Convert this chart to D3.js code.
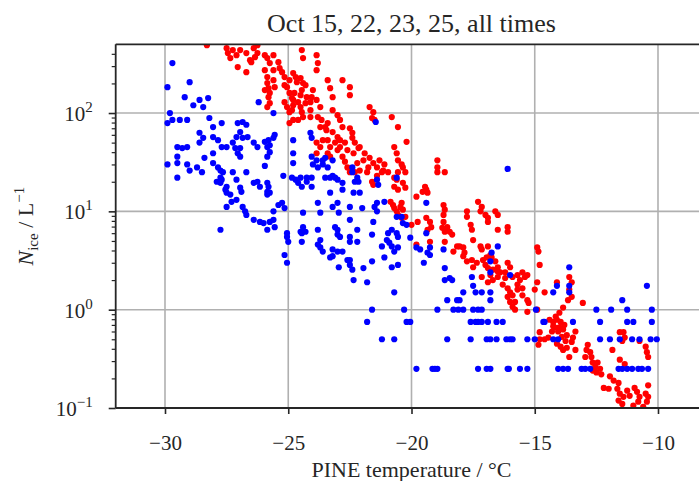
<!DOCTYPE html>
<html>
<head>
<meta charset="utf-8">
<script src="https://cdn.jsdelivr.net/npm/d3@7"></script>
<style>
  body { margin: 0; background: #fff; }
  svg text { font-family: "Liberation Serif", "DejaVu Serif", serif; fill: #262626; }
</style>
</head>
<body>
<svg id="chart" width="699" height="481"></svg>
<script>
// chart text + ticks
const titleText = 'Oct 15, 22, 23, 25, all times'
const xLabel = 'PINE temperature / °C'
const xTicks = [-30, -25, -20, -15, -10]
const yTicks = [0.1, 1, 10, 100]
const yMinor = [0.2, 0.3, 0.4, 0.5, 0.6, 0.7, 0.8, 0.9, 2, 3, 4, 5, 6, 7, 8, 9,
  20, 30, 40, 50, 60, 70, 80, 90, 200, 300, 400]

// [temperature degC, N_ice per litre]
const bluePoints = [
  [-29.7,322],[-29.9,183],[-29.0,206],[-29.2,145],[-28.85,120],[-28.6,136],[-28.45,115],[-28.25,142],
  [-29.8,100],[-29.7,85],[-29.9,79],[-29.4,85],[-29.1,85],[-28.2,89],[-28.05,72],[-27.7,79],
  [-27.05,79],[-26.85,81],[-26.7,76],[-26.95,64],[-27.1,57],[-28.6,63],[-28.6,50],[-28.45,56],
  [-28.05,57],[-27.85,53],[-27.7,45],[-27.5,45],[-27.25,50],[-27.15,44],[-27.05,39],[-26.95,36],
  [-26.65,57],[-26.4,50],[-26.25,45],[-25.95,51],[-25.8,53],[-25.6,56],[-25.55,60],[-25.85,45],[-25.75,40],
  [-29.5,45],[-29.1,45],[-29.5,36],[-29.3,44],[-29.9,30],[-29.5,31],[-29.0,26],[-28.7,28],[-28.5,25],[-29.5,22],
  [-28.05,39],[-28.05,31],[-27.85,28],[-27.75,26],[-27.65,25],[-27.5,17.8],[-27.75,19.5],[-27.9,20],
  [-27.25,25],[-27.1,21],[-26.95,17.4],[-27.35,14.8],[-27.1,13.1],[-26.85,11.1],[-26.7,9.2],
  [-26.4,19.5],[-26.25,20],[-26.15,17.8],[-25.85,15.8],[-25.85,14.8],
  [-25.75,7.8],[-25.85,6.5],[-25.6,10],[-25.25,12.2],[-25.15,10.8],[-26.4,8.2],[-26.15,7.8],[-26.0,7.6],[-27.75,6.5],
  [-25.6,100],[-26.2,129],[-24.8,53],[-24.8,39],[-24.8,31],[-24.85,22],[-24.7,21],[-24.6,19.5],[-24.25,20],
  [-24.1,63],[-24.05,56],[-24.05,36],[-24.0,30],[-23.85,33],[-23.6,33],[-23.4,28],[-23.2,33],
  [-22.8,19.5],[-22.8,16.6],[-23.3,22],[-23.2,11.1],[-23.0,12.2],
  [-25.05,6.0],[-24.45,6.0],[-24.4,6.9],[-23.7,9.7],[-23.8,6.5],[-23.0,6.5],
  [-26.85,56],[-25.75,47],[-26.95,44],[-25.85,36],[-28.4,35],[-29.1,30],[-26.7,25],[-25.95,29],
  [-27.75,22],[-27.7,21],[-27.55,16.6],[-27.5,15.5],[-27.3,12.5],[-27.5,11.1],[-26.9,15.8],[-25.85,19.5],[-25.8,17.8],
  [-26.75,10],[-25.55,6.9],[-25.4,11.6],
  [-23.8,28],[-23.6,30],[-23.5,35],[-25.2,23],[-24.5,22],[-24.25,22],[-24.05,22],[-23.2,23],[-22.4,28],[-22.2,22],
  [-21.45,81],[-20.6,22],
  [-24.45,17.8],[-24.05,17.8],[-23.5,22],[-23.1,22],[-23.0,21],[-23.3,15.5],[-22.4,25],[-22.3,20],[-22.15,20],
  [-22.35,15.5],[-22.1,15.5],[-21.4,21],[-21.35,18.6],[-25.75,15.5],[-23.8,12.2],[-25.6,8.2],[-24.4,9.7],
  [-22.95,9.7],[-22.5,11.1],[-22.0,10.8],[-21.4,12.2],[-21.5,11.1],[-21.4,10],[-21.1,12.5],[-22.5,8.2],
  [-23.1,6.9],[-23.0,5.8],[-22.9,5.5],[-21.55,7.8],[-24.5,6.2],[-24.3,6.2],[-23.7,5.1],[-23.8,4.6],
  [-25.05,5.5],[-25.0,4.9],[-24.45,4.9],[-22.5,5.5],[-22.5,4.9],[-22.2,6.5],[-21.6,5.8],[-20.95,6.0],
  [-20.8,6.5],[-20.6,6.0],[-20.55,5.5],[-21.0,5.1],[-20.9,4.8],[-20.8,4.4],[-20.55,4.3],[-20.7,3.9],
  [-21.2,4.4],[-23.7,4.3],[-23.6,3.9],[-23.2,4.1],[-23.0,3.9],[-22.8,3.9],[-25.15,3.6],[-25.05,3.0],
  [-23.3,3.4],[-22.5,3.2],[-22.5,2.85],[-22.4,2.55],[-22.95,2.7],[-21.95,2.65],[-21.6,3.1],[-21.1,3.4],
  [-20.8,2.7],[-20.55,2.85],[-22.35,2.0],[-21.8,1.9],[-20.7,1.5],[-20.05,5.4],[-20.2,7.3],[-20.35,7.6],
  [-20.4,8.8],[-20.6,8.8],[-23.2,3.5],[-22.6,3.2],[-22.2,4.9],[-19.35,3.8],
  [-21.6,1],[-21.8,0.75],[-20.3,1],[-20.2,0.75],[-21.2,0.5],[-20.7,0.5],
  [-16.1,27],[-19.4,12.2],[-19.4,6.0],[-19.8,4.3],[-19.65,4.1],[-19.25,4.3],[-19.25,3.6],[-18.7,4.1],
  [-19.5,3.0],[-18.65,2.65],[-16.75,3.8],[-16.5,4.4],[-16.0,2.25],[-18.45,2.1],[-17.55,2.15],
  [-16.8,3.1],[-16.8,2.4],
  [-18.65,2.0],[-18.35,2.0],[-17.5,1.75],[-17.4,1.5],[-17.15,1.5],[-16.8,1.5],[-17.9,1.5],
  [-18.05,1.25],[-18.15,1.25],[-18.55,1.25],[-16.8,1.25],
  [-18.95,1],[-18.3,1],[-18.1,1],[-17.9,1],[-17.5,1],[-17.3,1],[-17.15,1],
  [-20.05,0.75],[-17.6,0.75],[-17.4,0.75],[-17.3,0.75],[-17.15,0.75],[-16.9,0.75],[-16.55,0.75],[-16.3,0.75],
  [-18.55,0.5],[-17.6,0.5],[-16.95,0.5],[-16.8,0.5],[-16.55,0.5],[-16.15,0.5],[-16.0,0.5],[-15.9,0.5],
  [-15.3,0.5],[-15.0,0.5],
  [-19.8,0.25],[-19.15,0.25],[-19.05,0.25],[-18.95,0.25],[-17.3,0.25],[-16.95,0.25],[-16.8,0.25],
  [-16.1,0.25],[-16.05,0.25],[-15.6,0.25],[-15.3,0.25],
  [-14.95,1],[-14.65,0.75],[-14.6,0.75],[-14.25,1.5],[-14.1,1.75],[-14.25,0.5],[-14.05,0.25],
  [-13.6,2.7],[-10.45,1.75],[-13.6,1.5],[-13.6,1.75],[-11.45,1.25],
  [-12.5,1],[-11.9,1],[-11.25,1],[-10.25,1],
  [-12.35,0.75],[-11.25,0.75],[-11.0,0.75],[-10.25,0.75],[-13.45,0.75],
  [-14.05,0.5],[-12.35,0.5],[-11.95,0.5],[-11.55,0.5],[-11.05,0.5],[-10.75,0.5],[-10.3,0.5],[-10.05,0.5],
  [-13.85,0.25],[-13.65,0.25],[-13.1,0.25],[-12.95,0.25],[-12.75,0.25],[-11.6,0.25],[-11.45,0.25],
  [-11.25,0.25],[-11.05,0.25],[-10.8,0.25],[-10.65,0.25],[-10.4,0.25]
]

const redPoints = [
  [-28.3,490],[-27.5,457],[-27.45,407],[-27.35,362],[-27.25,437],[-27.1,388],[-27.05,293],[-26.7,260],
  [-26.95,437],[-26.4,457],[-26.25,490],[-26.35,370],[-26.55,345],[-25.85,362],[-25.75,322],[-25.6,388],
  [-25.4,329],[-25.35,286],[-25.6,273],[-25.95,273],[-25.85,232],[-25.85,202],[-25.95,171],[-25.8,145],
  [-25.85,115],[-25.6,216],[-25.55,183],[-25.15,232],[-25.05,183],[-24.95,160],[-24.8,136],[-24.85,107],
  [-24.8,85],[-24.95,79],[-24.5,227],[-24.4,202],[-24.45,171],[-24.25,145],[-24.3,126],[-24.1,107],
  [-24.45,437],[-24.4,362],[-23.85,388],[-23.8,322],[-23.85,273],[-24.0,171],[-23.85,136],[-23.7,115],
  [-23.8,91],[-23.65,85],[-23.4,216],[-23.3,179],[-23.2,145],[-23.2,107],[-23.0,95],[-22.9,85],
  [-22.8,72],[-23.7,72],[-23.4,79],[-23.2,64],[-23.0,57],[-22.9,53],[-22.7,50],[-22.6,42],
  [-23.85,50],[-23.7,45],[-23.85,39],[-23.4,53],[-23.3,45],[-22.8,216],
  [-26.7,407],[-26.25,407],[-26.5,329],[-25.95,388],[-25.75,126],[-25.8,179],
  [-25.25,260],[-25.75,160],[-24.8,255],[-24.7,232],[-24.95,216],[-25.15,192],[-24.65,206],[-24.3,192],
  [-24.75,160],[-24.5,152],[-24.85,142],[-24.6,129],[-24.8,120],[-24.5,115],[-24.05,145],[-24.1,129],
  [-25.15,129],[-25.05,115],[-22.5,183],[-22.5,152],[-24.95,102],[-24.45,102],[-24.4,91],[-24.6,85],
  [-24.1,91],[-23.5,72],[-23.45,67],[-23.1,50],[-22.9,45],[-23.0,42],[-22.5,70],[-22.4,63],[-22.4,56],
  [-22.3,50],[-22.15,44],[-22.35,39],[-21.7,115],[-21.55,102],[-21.6,89],[-21.5,85],[-20.8,91],[-20.55,72],
  [-23.6,53],[-23.4,39],[-23.3,36],[-22.1,45],[-21.9,39],[-21.7,35],[-21.95,33],[-21.55,31],[-21.4,28],
  [-21.75,28],[-21.3,33],[-21.1,30],[-21.15,26],[-20.95,25],[-20.7,45],[-20.6,39],[-20.55,33],[-20.4,30],
  [-20.35,28],[-20.25,25],[-20.55,25],[-20.2,51],[-22.8,36],[-22.7,32],[-22.6,28],[-22.5,25],[-22.2,31],
  [-22.1,26],[-22.3,25],[-20.7,22],
  [-21.8,25],[-21.4,23],[-21.2,25],[-21.6,20],[-21.55,18.6],[-20.6,21],[-20.7,17.8],[-20.55,16.6],
  [-20.35,19.5],[-20.25,17.4],[-20.85,12.5],[-20.75,11.6],[-20.7,10.8],[-20.6,10],[-20.55,9.2],
  [-20.45,11.1],[-20.4,12.2],[-20.35,10.4],[-20.4,8.6],[-20.25,8.8],[-19.8,14.1],[-19.75,7.8],[-19.8,4.6],[-20.0,7.3],
  [-18.95,33],[-18.95,28],[-18.95,25],[-18.65,25],[-19.45,17.8],[-19.4,16.6],[-19.55,15.8],[-19.35,15.5],
  [-18.7,11.6],[-18.65,10.4],[-18.7,9.2],[-17.3,12.5],[-17.15,11.1],[-17.2,10],[-16.9,8.6],[-17.0,9.2],
  [-16.6,10],[-16.5,9.2],[-17.75,10],[-17.75,8.8],[-19.4,8.6],[-19.25,7.8],[-19.2,6.9],[-19.35,6.5],
  [-18.7,7.8],[-18.55,6.9],[-18.75,6.8],[-18.65,6.2],[-18.45,6.2],[-18.35,5.8],[-17.6,7.3],[-17.55,6.5],
  [-17.5,5.1],[-16.9,7.8],[-16.5,6.5],[-16.1,6.9],[-16.1,6.2],[-19.25,4.9],[-18.65,4.9],[-18.15,4.4],
  [-18.05,4.4],[-17.9,4.3],[-18.3,3.9],[-17.85,3.8],[-17.2,4.4],[-17.15,4.1],[-16.9,4.4],[-16.8,3.6],
  [-17.9,3.5],[-17.75,3.1],[-17.55,3.2],[-17.35,3.0],[-17.5,2.7],[-17.1,3.2],[-17.0,2.85],[-16.9,2.65],
  [-16.95,3.4],[-16.75,3.4],[-16.6,3.1],[-16.5,2.7],[-16.7,2.55],[-16.5,2.45],[-16.4,2.4],[-16.2,2.4],
  [-16.1,3.0],[-16.0,2.7],[-15.7,2.25],[-15.5,2.4],[-15.3,2.25],[-14.9,4.3],[-14.85,3.9],[-14.8,2.85],[-17.15,2.15],
  [-16.8,2.25],[-16.7,2.0],[-16.9,1.9],[-16.5,2.15],[-16.2,2.1],[-15.9,2.15],[-15.4,2.15],[-16.3,1.8],
  [-16.1,1.65],[-16.0,1.5],[-15.9,1.4],[-16.1,1.35],[-16.0,1.2],[-15.8,1.2],[-15.9,1.07],[-15.8,1.0],
  [-15.7,1.8],[-15.7,1.6],[-15.5,1.65],[-15.5,1.4],[-15.6,2.0],[-15.3,1.25],[-15.25,1.17],[-15.3,0.95],
  [-15.0,1.6],[-14.9,1.9],[-14.6,1.5],[-14.9,1.0],[-14.1,1.9],[-14.4,0.79],[-14.25,0.75],[-14.1,0.79],
  [-14.2,0.66],[-14.05,0.6],[-14.8,0.59],[-14.8,0.5],[-14.85,0.44],[-14.6,0.5],[-14.45,0.52],
  [-14.15,0.85],[-13.95,0.75],[-13.8,0.7],[-14.3,0.6],[-13.7,0.55],[-14.1,0.45],[-13.95,0.42],
  [-13.6,2.15],[-13.5,1.9],[-13.6,1.6],[-13.5,1.35],[-13.65,1.25],[-13.05,1.17],[-13.85,1.05],[-14.0,0.93],
  [-14.25,0.68],[-14.0,0.66],[-13.85,0.63],[-13.9,0.53],[-13.75,0.48],[-13.7,0.41],[-13.85,0.39],[-13.6,0.33],
  [-13.35,0.6],[-13.45,0.52],[-13.5,0.47],[-13.35,0.39],[-12.85,0.44],[-12.9,0.39],[-12.75,0.37],[-12.95,0.33],
  [-12.7,0.33],[-12.65,0.29],[-12.55,0.26],[-12.45,0.29],[-12.5,0.23],[-12.35,0.25],[-12.3,0.22],[-12.65,0.24],
  [-11.85,0.39],[-11.55,0.59],[-11.4,0.59],[-11.35,0.52],[-11.45,0.48],[-11.55,0.31],[-11.35,0.28],
  [-10.75,0.48],[-10.5,0.42],[-10.45,0.37],[-10.4,0.33],[-11.95,0.21],[-11.8,0.19],[-12.2,0.16],[-12.0,0.157],
  [-11.6,0.18],[-11.65,0.157],[-11.55,0.14],[-11.4,0.13],[-11.6,0.119],[-11.25,0.15],[-11.15,0.133],
  [-10.95,0.16],[-10.85,0.146],[-10.75,0.13],[-10.5,0.14],[-10.4,0.13],[-10.4,0.17],[-10.8,0.116],
  [-11.0,0.106],[-11.45,0.11],[-10.45,0.116],[-10.6,0.103]
]

let width = 699
let height = 481
let plot = {left: 115.7, right: 707.3, top: 44.3, bottom: 408}
let ink = '#262626'
let dotR = 3.1

let x = d3.scaleLinear().domain([-32, -8]).range([plot.left, plot.right])
let y = d3.scaleLog().domain([0.1, 500]).range([plot.bottom, plot.top])

const svg = d3.select('#chart')
  .attr('viewBox', [0, 0, width, height])

svg.append('clipPath').attr('id', 'clip')
  .append('rect')
    .attr('x', plot.left).attr('y', plot.top)
    .attr('width', plot.right - plot.left).attr('height', plot.bottom - plot.top)

// grid
let grid = svg.append('g').attr('stroke', '#b0b0b0').attr('stroke-width', 1.6)
grid.selectAll('.gx').data(xTicks).join('line')
  .attr('x1', d => x(d)).attr('x2', d => x(d))
  .attr('y1', plot.top).attr('y2', plot.bottom)
grid.selectAll('.gy').data(yTicks).join('line')
  .attr('x1', plot.left).attr('x2', plot.right)
  .attr('y1', d => y(d)).attr('y2', d => y(d))

// points: red first, blue drawn over it
let dots = svg.append('g').attr('clip-path', 'url(#clip)')
dots.append('g').selectAll('circle').data(redPoints).join('circle')
  .attr('cx', d => x(d[0])).attr('cy', d => y(d[1]))
  .attr('r', dotR).attr('fill', '#ff0000')
dots.append('g').selectAll('circle').data(bluePoints).join('circle')
  .attr('cx', d => x(d[0])).attr('cy', d => y(d[1]))
  .attr('r', dotR).attr('fill', '#0000ff')

// x axis
svg.append('g')
  .attr('transform', `translate(0,${plot.bottom})`)
  .call(d3.axisBottom(x).tickValues(xTicks).tickSize(6).tickSizeOuter(0).tickPadding(21))
  .call(g => g.select('.domain').remove())
  .call(g => g.selectAll('.tick line').attr('stroke', ink).attr('stroke-width', 1.6))
  .call(g => g.selectAll('.tick text')
    .attr('font-size', 21).attr('font-family', null).attr('fill', ink))

// y axis, major + minor ticks
svg.append('g')
  .attr('transform', `translate(${plot.left},0)`)
  .call(d3.axisLeft(y).tickValues(yMinor).tickSize(4).tickFormat(''))
  .call(g => g.select('.domain').remove())
  .call(g => g.selectAll('.tick line').attr('stroke', ink).attr('stroke-width', 1.2))

let yAxis = svg.append('g')
  .attr('transform', `translate(${plot.left},0)`)
  .call(d3.axisLeft(y).tickValues(yTicks).tickSize(7).tickFormat(''))
  .call(g => g.select('.domain').remove())
  .call(g => g.selectAll('.tick line').attr('stroke', ink).attr('stroke-width', 1.6))

yAxis.selectAll('.tick').append('text')
  .attr('x', -23).attr('dy', '0.36em')
  .attr('text-anchor', 'end')
  .attr('font-size', 21).attr('font-family', null).attr('fill', ink)
  .each(function(d) {
    let t = d3.select(this)
    t.append('tspan').text('10')
    t.append('tspan').attr('dy', -9).attr('font-size', 15)
      .text(String(Math.round(Math.log10(d))).replace('-', '−'))
  })

// spines: left, bottom, top
let spines = svg.append('g').attr('stroke', ink).attr('stroke-width', 1.8)
spines.append('line').attr('x1', plot.left).attr('x2', plot.left).attr('y1', plot.top).attr('y2', plot.bottom)
spines.append('line').attr('x1', plot.left).attr('x2', plot.right).attr('y1', plot.bottom).attr('y2', plot.bottom)
spines.append('line').attr('x1', plot.left).attr('x2', plot.right).attr('y1', plot.top).attr('y2', plot.top)

// labels
let midX = (plot.left + plot.right) / 2
svg.append('text')
  .attr('x', midX).attr('y', 32)
  .attr('text-anchor', 'middle').attr('font-size', 26)
  .text(titleText)

svg.append('text')
  .attr('x', midX).attr('y', 477)
  .attr('text-anchor', 'middle').attr('font-size', 22)
  .text(xLabel)

let yl = svg.append('text')
  .attr('transform', `translate(33,${(plot.top + plot.bottom) / 2}) rotate(-90)`)
  .attr('text-anchor', 'middle').attr('font-size', 22)
yl.append('tspan').attr('font-style', 'italic').text('N')
yl.append('tspan').attr('font-size', 15).attr('dy', 5).text('ice')
yl.append('tspan').attr('dy', -5).text(' / L')
yl.append('tspan').attr('font-size', 15).attr('dy', -9).text('−1')
</script>
</body>
</html>
